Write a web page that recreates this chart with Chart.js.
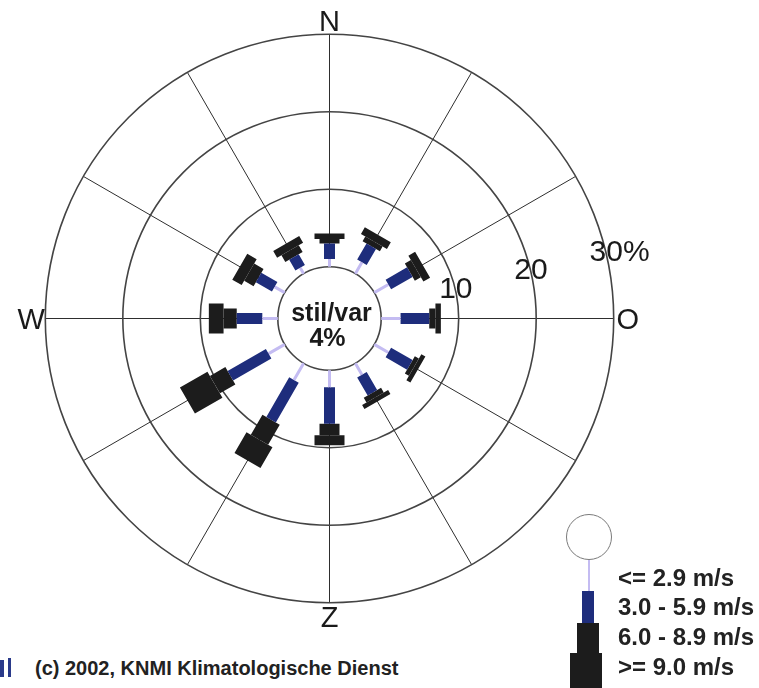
<!DOCTYPE html>
<html lang="nl">
<head>
  <meta charset="UTF-8" />
  <title>Windroos</title>
  <script src="https://cdn.jsdelivr.net/npm/chart.js"></script>
  <style>
    html, body {
      margin: 0;
      padding: 0;
      background: #fff;
    }
    body {
      width: 759px;
      height: 688px;
      position: relative;
      overflow: hidden;
      font-family: "Liberation Sans", Arial, sans-serif;
      color: #222;
    }
    #rose {
      position: absolute;
      left: 3.5px;
      top: -7.5px;
      width: 651px;
      height: 651px;
    }
    .key {
      position: absolute;
    }
    .key-text {
      position: absolute;
      left: 618px;
      font-weight: bold;
      font-size: 24px;
      line-height: 30px;
      white-space: nowrap;
    }
    .credit {
      position: absolute;
      left: 35px;
      top: 656px;
      font-weight: bold;
      font-size: 20px;
      line-height: 24px;
      white-space: nowrap;
    }
  </style>
</head>
<body>
  <div id="rose"><canvas id="roseChart"></canvas></div>

  <!-- speed key -->
  <div class="key" style="left:566px; top:514px; width:46px; height:46px; box-sizing:border-box; border:1.5px solid #7a7a7a; border-radius:50%;"></div>
  <div class="key" style="left:588px; top:560px; width:2px; height:32px; background:#c4bcf2;"></div>
  <div class="key" style="left:582px; top:591px; width:12px; height:33px; background:#1e2d7c;"></div>
  <div class="key" style="left:577px; top:623px; width:22px; height:31px; background:#1c1c1c;"></div>
  <div class="key" style="left:570px; top:653px; width:32px; height:35px; background:#1c1c1c;"></div>
  <div class="key-text" style="top:563px;">&lt;= 2.9 m/s</div>
  <div class="key-text" style="top:592px;">3.0 - 5.9 m/s</div>
  <div class="key-text" style="top:622px;">6.0 - 8.9 m/s</div>
  <div class="key-text" style="top:652px;">&gt;= 9.0 m/s</div>

  <div class="key" style="left:0px; top:660px; width:4px; height:17px; background:#2a3a8a;"></div>
  <div class="key" style="left:8px; top:658px; width:3px; height:19px; background:#2a3a8a;"></div>
  <div class="credit">(c) 2002, KNMI Klimatologische Dienst</div>

  <script>
    // directions in degrees clockwise from north
    const directions = [0, 30, 60, 90, 120, 150, 180, 210, 240, 270, 300, 330];
    const compass = ["N", "", "", "O", "", "", "Z", "", "", "W", "", ""];

    // frequency (% of time) per speed class and direction
    const light    = [1.0, 1.7, 2.1, 2.5, 2.1, 1.7, 2.2, 2.5, 2.4, 2.0, 1.5, 0.9]; // <= 2.9 m/s
    const moderate = [2.0, 2.4, 3.2, 3.7, 3.2, 2.7, 4.7, 5.9, 5.7, 3.3, 2.4, 1.6]; // 3.0 - 5.9 m/s
    const fresh    = [0.6, 0.7, 0.9, 0.8, 0.6, 0.7, 1.5, 3.0, 2.3, 1.7, 1.4, 1.0]; // 6.0 - 8.9 m/s
    const strong   = [0.7, 1.0, 1.0, 0.7, 0.6, 0.6, 1.3, 3.1, 4.1, 1.9, 1.4, 1.0]; // >= 9.0 m/s

    const ringTicks = [10, 20, 30];
    const stilVar = 4;

    // radius of the stil/var circle, expressed in percent units
    const HOLE = 6.67;

    function rad(deg) {
      return deg * Math.PI / 180;
    }

    // one line piece per direction, from base to base + value, gaps between
    function pieces(base, values) {
      const pts = [];
      directions.forEach((deg, i) => {
        const a = rad(deg);
        const r0 = HOLE + base[i];
        const r1 = HOLE + base[i] + values[i];
        pts.push({ x: r0 * Math.sin(a), y: r0 * Math.cos(a) });
        pts.push({ x: r1 * Math.sin(a), y: r1 * Math.cos(a) });
        pts.push({ x: null, y: null });
      });
      return pts;
    }

    const zero = directions.map(() => 0);
    const base2 = light.map((v, i) => v + moderate[i]);
    const base3 = base2.map((v, i) => v + fresh[i]);

    const classes = [
      { label: "<= 2.9 m/s",    base: zero,  values: light,    color: "#c4bcf2", width: 3 },
      { label: "3.0 - 5.9 m/s", base: light, values: moderate, color: "#1e2d7c", width: 11 },
      { label: "6.0 - 8.9 m/s", base: base2, values: fresh,    color: "#1c1c1c", width: 20 },
      { label: ">= 9.0 m/s",    base: base3, values: strong,   color: "#1c1c1c", width: 30 }
    ];

    const datasets = classes.map(c => ({
      label: c.label,
      data: pieces(c.base, c.values),
      showLine: true,
      spanGaps: false,
      fill: false,
      borderColor: c.color,
      borderWidth: c.width,
      borderCapStyle: "butt",
      pointRadius: 0
    }));

    const roseGrid = {
      id: "roseGrid",
      beforeDatasetsDraw(chart) {
        const { ctx, scales: { x, y } } = chart;
        const cx = x.getPixelForValue(0);
        const cy = y.getPixelForValue(0);
        const px = v => x.getPixelForValue(HOLE + v) - cx;
        const outer = ringTicks[ringTicks.length - 1];

        ctx.save();
        ctx.strokeStyle = "#2e2e2e";
        ctx.lineWidth = 1;
        directions.forEach(deg => {
          const a = rad(deg);
          ctx.beginPath();
          ctx.moveTo(cx + px(0) * Math.sin(a), cy - px(0) * Math.cos(a));
          ctx.lineTo(cx + px(outer) * Math.sin(a), cy - px(outer) * Math.cos(a));
          ctx.stroke();
        });

        ctx.strokeStyle = "#444";
        ctx.lineWidth = 1.6;
        [0, ...ringTicks].forEach(v => {
          ctx.beginPath();
          ctx.arc(cx, cy, px(v), 0, Math.PI * 2);
          ctx.stroke();
        });
        ctx.restore();
      },
      afterDatasetsDraw(chart) {
        const { ctx, scales: { x, y } } = chart;
        const cx = x.getPixelForValue(0);
        const cy = y.getPixelForValue(0);
        const px = v => x.getPixelForValue(HOLE + v) - cx;
        const outer = ringTicks[ringTicks.length - 1];

        ctx.save();
        ctx.fillStyle = "#1a1a1a";

        // compass letters
        ctx.font = "29px 'Liberation Sans', Arial, sans-serif";
        ctx.textAlign = "center";
        ctx.textBaseline = "alphabetic";
        const dist = px(outer) + 14;
        directions.forEach((deg, i) => {
          if (!compass[i]) return;
          const a = rad(deg);
          ctx.fillText(compass[i], cx + dist * Math.sin(a), cy - dist * Math.cos(a) + 10.5);
        });

        // ring values
        ctx.font = "30px 'Liberation Sans', Arial, sans-serif";
        const ta = rad(76);
        ringTicks.forEach((v, i) => {
          const r = px(v) + 1;
          const tx = cx + r * Math.sin(ta);
          const ty = cy - r * Math.cos(ta) + 11;
          const num = String(v);
          const w = ctx.measureText(num).width;
          ctx.textAlign = "left";
          ctx.fillText(i === ringTicks.length - 1 ? num + "%" : num, tx - w / 2, ty);
        });

        // calm share in the middle
        ctx.textAlign = "center";
        ctx.font = "bold 25px 'Liberation Sans', Arial, sans-serif";
        ctx.fillText("stil/var", cx + 2, cy + 2);
        ctx.fillText(stilVar + "%", cx - 2, cy + 27);
        ctx.restore();
      }
    };

    new Chart(document.getElementById("roseChart"), {
      type: "scatter",
      data: { datasets },
      options: {
        responsive: true,
        maintainAspectRatio: false,
        animation: false,
        events: [],
        layout: { padding: 0 },
        plugins: {
          legend: { display: false },
          tooltip: { enabled: false }
        },
        scales: {
          x: { type: "linear", min: -42, max: 42, display: false },
          y: { type: "linear", min: -42, max: 42, display: false }
        }
      },
      plugins: [roseGrid]
    });
  </script>
</body>
</html>
